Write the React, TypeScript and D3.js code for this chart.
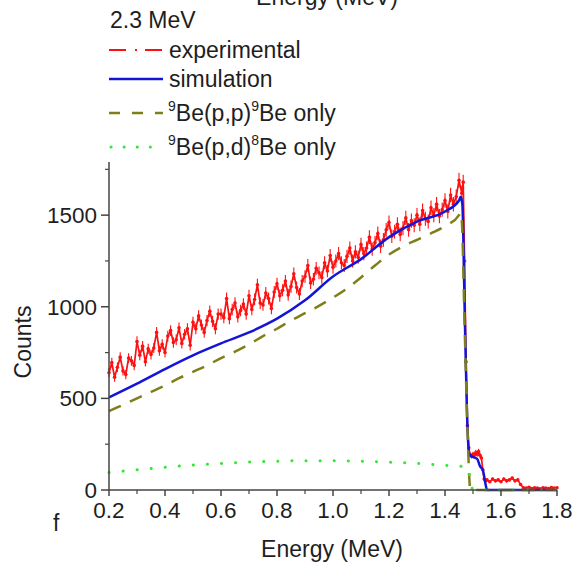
import React from "react";
import * as d3 from "d3";

// ---------- DATA ----------
const legendTitle = "2.3 MeV";
const xLabel = "Energy (MeV)";
const yLabel = "Counts";
const panelLetter = "f";

const xTicks = [0.2, 0.4, 0.6, 0.8, 1.0, 1.2, 1.4, 1.6, 1.8];
const xMinorTicks = [0.3, 0.5, 0.7, 0.9, 1.1, 1.3, 1.5, 1.7];
const yTicks = [0, 500, 1000, 1500];
const yMinorTicks = [250, 750, 1250, 1750];

// experimental channel spectrum: channels from 0.20 MeV in 0.01 MeV steps
const expStart = 0.2;
const expStep = 0.01;
const expCounts = [
  640, 695, 615, 670, 725, 650, 630, 720, 705, 680,
  810, 735, 785, 700, 770, 740, 775, 860, 760, 795,
  750, 840, 870, 805, 820, 885, 800, 850, 880, 790,
  915, 880, 950, 900, 860, 925, 975, 920, 880, 960,
  960, 940, 1045, 935, 985, 1020, 945, 980, 1015, 960,
  1060, 985, 1040, 1120, 1020, 1010, 1075, 1045, 990, 1080,
  1125, 1060, 1090, 1140, 1065, 1110, 1180, 1105, 1070, 1140,
  1165, 1225, 1130, 1150, 1210, 1185, 1160, 1240, 1195, 1280,
  1215, 1250, 1290, 1240, 1225, 1275, 1320, 1250, 1300, 1270,
  1340, 1290, 1320, 1380, 1315, 1350, 1400, 1330, 1365, 1420,
  1460, 1385, 1410, 1450, 1395, 1430, 1485, 1420, 1470, 1445,
  1500, 1450, 1525, 1480, 1465, 1540, 1500, 1560, 1495, 1530,
  1580, 1520, 1610, 1560, 1600, 1690, 1620,
];
// edge and tail of the experimental spectrum [energy, counts]
const expTail: [number, number][] = [
  [1.465, 1680], [1.47, 1250], [1.475, 700], [1.48, 350], [1.485, 230],
  [1.49, 190], [1.495, 185], [1.5, 195], [1.505, 190], [1.51, 205],
  [1.515, 195], [1.52, 210], [1.525, 190], [1.53, 175], [1.535, 110],
  [1.54, 60], [1.545, 50], [1.55, 55], [1.56, 45], [1.57, 60],
  [1.58, 50], [1.59, 55], [1.6, 45], [1.61, 60], [1.62, 50],
  [1.63, 55], [1.64, 65], [1.65, 50], [1.66, 55], [1.67, 30],
  [1.68, 12], [1.69, 10], [1.7, 15], [1.71, 8], [1.72, 12],
  [1.73, 10], [1.74, 6], [1.75, 12], [1.76, 10], [1.77, 8],
  [1.78, 14], [1.79, 10], [1.8, 12],
];

const simEnergy = [0.2, 0.3, 0.4, 0.5, 0.6, 0.7, 0.8, 0.9, 1.0, 1.1, 1.2, 1.3, 1.4, 1.45, 1.456, 1.462, 1.47, 1.478, 1.486, 1.49, 1.5, 1.515, 1.525, 1.535, 1.545, 1.55, 1.6, 1.7, 1.8];
const simCounts = [505, 580, 660, 735, 800, 860, 935, 1035, 1165, 1260, 1380, 1465, 1520, 1580, 1600, 1560, 1000, 450, 200, 190, 180, 170, 130, 110, 30, 0, 0, 0, 0];

const ppEnergy = [0.2, 0.25, 0.3, 0.35, 0.4, 0.45, 0.5, 0.55, 0.6, 0.65, 0.7, 0.75, 0.8, 0.85, 0.9, 0.95, 1.0, 1.05, 1.1, 1.15, 1.2, 1.25, 1.3, 1.35, 1.4, 1.45, 1.455, 1.46, 1.47, 1.48, 1.487, 1.49, 1.6, 1.7, 1.8];
const ppCounts = [430, 465, 500, 535, 570, 610, 645, 680, 720, 755, 795, 840, 880, 925, 965, 1005, 1050, 1100, 1160, 1225, 1285, 1330, 1365, 1400, 1440, 1500, 1515, 1470, 900, 350, 60, 0, 0, 0, 0];

const pdEnergy = [0.2, 0.3, 0.4, 0.5, 0.6, 0.7, 0.8, 0.9, 1.0, 1.1, 1.2, 1.3, 1.4, 1.48, 1.49, 1.5, 1.6, 1.7, 1.8];
const pdCounts = [96, 110, 124, 136, 145, 152, 157, 160, 160, 157, 152, 145, 135, 125, 60, 0, 0, 0, 0];

// ---------- STYLE ----------
const FONT = "'Liberation Sans', Arial, Helvetica, sans-serif";
const RED = "#ff1010";
const BLUE = "#1414d8";
const OLIVE = "#7f7f1a";
const GREEN = "#33e633";
const TEXT = "#1e1e1e";
const AXIS = "#444";

export default function App() {
  const x = d3.scaleLinear().domain([0.2, 1.8]).range([109, 557]);
  const y = d3.scaleLinear().domain([0, 1790]).range([490, 162]);

  const expData: [number, number][] = expCounts
    .map((c, i) => [expStart + i * expStep, c] as [number, number])
    .concat(expTail);
  const simData = simEnergy.map((e, i) => [e, simCounts[i]] as [number, number]);
  const ppData = ppEnergy.map((e, i) => [e, ppCounts[i]] as [number, number]);
  const pdData = pdEnergy.map((e, i) => [e, pdCounts[i]] as [number, number]);

  const lin = d3.line<[number, number]>().x((d) => x(d[0])).y((d) => y(d[1]));
  const smooth = d3
    .line<[number, number]>()
    .x((d) => x(d[0]))
    .y((d) => y(d[1]))
    .curve(d3.curveMonotoneX);

  const fmt = d3.format(".1f");
  const x0 = x.range()[0];
  const x1 = x.range()[1];
  const yb = y.range()[0];
  const yt = y.range()[1];

  return (
    <svg
      width={581}
      height={568}
      style={{ position: "absolute", left: 0, top: 0, background: "#fff" }}
      fontFamily={FONT}
    >
      <rect x={0} y={0} width={581} height={568} fill="#fff" />

      {/* title of the upper panel, clipped by the picture edge as in the source */}
      <text x={327} y={5} fontSize={23} textAnchor="middle" fill={TEXT}>
        {xLabel}
      </text>

      {/* legend */}
      <text x={110} y={28} fontSize={23} fill={TEXT}>
        {legendTitle}
      </text>
      <line x1={109} x2={163} y1={50} y2={50} stroke={RED} strokeWidth={2} strokeDasharray="17,9,2,8" />
      <line x1={109} x2={163} y1={79} y2={79} stroke={BLUE} strokeWidth={2.5} />
      <line x1={109} x2={163} y1={113} y2={113} stroke={OLIVE} strokeWidth={2.5} strokeDasharray="11,12" />
      <line x1={111} x2={163} y1={147} y2={147} stroke={GREEN} strokeWidth={3} strokeLinecap="round" strokeDasharray="0.1,13" />
      <text x={169} y={58} fontSize={23} fill={TEXT}>experimental</text>
      <text x={169} y={87} fontSize={23} fill={TEXT}>simulation</text>
      <text x={168} y={121} fontSize={23} fill={TEXT}>
        <tspan fontSize={14} dy={-10}>9</tspan>
        <tspan dy={10}>Be(p,p)</tspan>
        <tspan fontSize={14} dy={-10}>9</tspan>
        <tspan dy={10}>Be only</tspan>
      </text>
      <text x={168} y={155} fontSize={23} fill={TEXT}>
        <tspan fontSize={14} dy={-10}>9</tspan>
        <tspan dy={10}>Be(p,d)</tspan>
        <tspan fontSize={14} dy={-10}>8</tspan>
        <tspan dy={10}>Be only</tspan>
      </text>

      {/* data */}
      <g>
        {expData.map((d, i) => (
          <line
            key={"e" + i}
            x1={x(d[0])}
            x2={x(d[0])}
            y1={y(d[1] + Math.sqrt(d[1]))}
            y2={y(Math.max(0, d[1] - Math.sqrt(d[1])))}
            stroke={RED}
            strokeWidth={1.1}
          />
        ))}
        <path d={lin(expData) || ""} fill="none" stroke={RED} strokeWidth={1.7} />
        {expData.map((d, i) => (
          <circle key={"c" + i} cx={x(d[0])} cy={y(d[1])} r={1.8} fill={RED} />
        ))}
        <path d={smooth(simData) || ""} fill="none" stroke={BLUE} strokeWidth={2.5} />
        <path d={smooth(ppData) || ""} fill="none" stroke={OLIVE} strokeWidth={2.5} strokeDasharray="13,10" />
        <path d={smooth(pdData) || ""} fill="none" stroke={GREEN} strokeWidth={3} strokeLinecap="round" strokeDasharray="0.1,14" />
      </g>

      {/* axes */}
      <line x1={x0} x2={x1} y1={yb} y2={yb} stroke={AXIS} strokeWidth={1.5} />
      <line x1={x0} x2={x0} y1={yb} y2={yt} stroke={AXIS} strokeWidth={1.5} />
      {xTicks.map((t) => (
        <g key={"xt" + t}>
          <line x1={x(t)} x2={x(t)} y1={yb} y2={yb + 6} stroke={AXIS} strokeWidth={1.5} />
          <text x={x(t)} y={518} fontSize={22.5} textAnchor="middle" fill={TEXT}>
            {fmt(t)}
          </text>
        </g>
      ))}
      {xMinorTicks.map((t) => (
        <line key={"xm" + t} x1={x(t)} x2={x(t)} y1={yb} y2={yb + 4} stroke={AXIS} strokeWidth={1.2} />
      ))}
      {yTicks.map((t) => (
        <g key={"yt" + t}>
          <line x1={x0 - 8} x2={x0} y1={y(t)} y2={y(t)} stroke={AXIS} strokeWidth={1.5} />
          <text x={97} y={y(t) + 8} fontSize={22.5} textAnchor="end" fill={TEXT}>
            {t}
          </text>
        </g>
      ))}
      {yMinorTicks.map((t) => (
        <line key={"ym" + t} x1={x0 - 4} x2={x0} y1={y(t)} y2={y(t)} stroke={AXIS} strokeWidth={1.2} />
      ))}

      {/* axis titles */}
      <text x={332} y={557} fontSize={23} textAnchor="middle" fill={TEXT}>
        {xLabel}
      </text>
      <text
        transform={`translate(31,342) rotate(-90)`}
        fontSize={23}
        textAnchor="middle"
        fill={TEXT}
      >
        {yLabel}
      </text>
      <text x={53} y={531} fontSize={23} fill={TEXT}>
        {panelLetter}
      </text>
    </svg>
  );
}
